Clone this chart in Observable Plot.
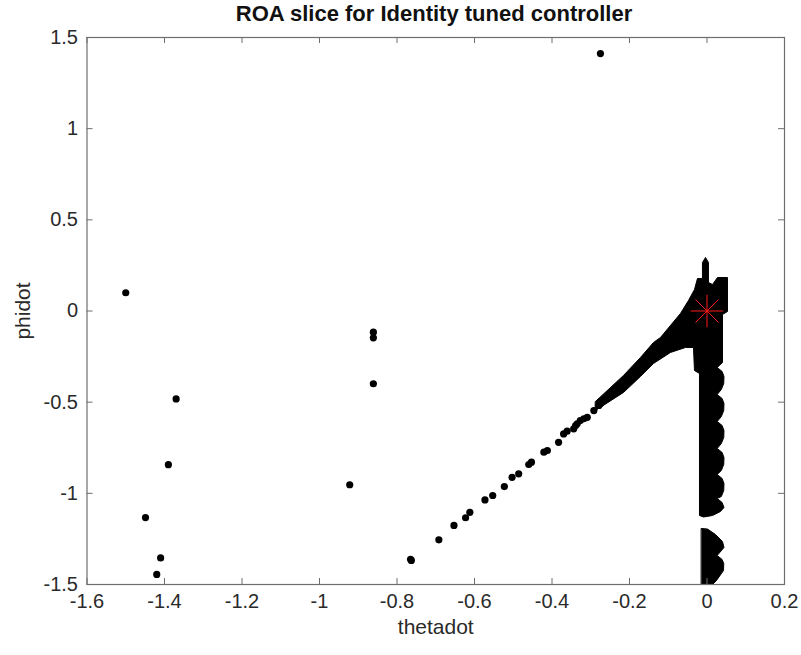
<!DOCTYPE html>
<html>
<head>
<meta charset="utf-8">
<script src="https://cdn.jsdelivr.net/npm/d3@7"></script>
<script src="https://cdn.jsdelivr.net/npm/@observablehq/plot@0.6"></script>
<style>
  html, body { margin: 0; padding: 0; background: #fff; }
  body { width: 801px; height: 655px; overflow: hidden; font-family: "Liberation Sans", Arial, sans-serif; }
  #title { position: relative; width: 801px; height: 14px; z-index: 2; }
  #title span { position: absolute; left: 434px; top: 1px; transform: translateX(-50%);
    font-weight: bold; font-size: 22px; line-height: 25px; color: #111; white-space: nowrap; }
  #chart { position: relative; z-index: 1; }
  #chart svg { display: block; background: transparent; }
</style>
</head>
<body>
<div id="title"><span>ROA slice for Identity tuned controller</span></div>
<div id="chart"></div>
<script>
// ---- tick values ----
const xTicks = [-1.6, -1.4, -1.2, -1, -0.8, -0.6, -0.4, -0.2, 0, 0.2];
const yTicks = [-1.5, -1, -0.5, 0, 0.5, 1, 1.5];

// ---- isolated sample points (thetadot, phidot) ----
const isoX = [-0.275, -1.500, -1.370, -1.390, -1.449, -1.410, -1.420, -0.861, -0.861, -0.861, -0.922, -0.763, -0.765];
const isoY = [ 1.412,  0.100, -0.482, -0.843, -1.133, -1.354, -1.445, -0.116, -0.147, -0.399, -0.953, -1.368, -1.362];

// ---- sparse points along the diagonal ----
const diagX = [-0.692, -0.653, -0.623, -0.612, -0.573, -0.553, -0.523, -0.503, -0.486, -0.460, -0.453, -0.421, -0.412,
               -0.383, -0.370, -0.361, -0.344, -0.339, -0.335, -0.327, -0.318, -0.309, -0.292, -0.279, -0.275];
const diagY = [-1.255, -1.176, -1.134, -1.104, -1.036, -1.012, -0.963, -0.912, -0.893, -0.842, -0.829, -0.774, -0.765,
               -0.720, -0.674, -0.659, -0.646, -0.628, -0.619, -0.601, -0.591, -0.583, -0.546, -0.518, -0.507];

// ---- dense region outline: diagonal band + column near thetadot = 0 ----
const denseX = [-0.2878, -0.2155, -0.1717, -0.1381, -0.1201, -0.0943, -0.0685, -0.0478, -0.0323, -0.0246,
                -0.0117, -0.0117, -0.0039, 0.0038, 0.0038, 0.0142, 0.0271, 0.0529, 0.0529, 0.0400, 0.0400,
                0.0263, 0.0390, 0.0438, 0.0432, 0.0370,
                0.0263, 0.0390, 0.0438, 0.0432, 0.0370,
                0.0263, 0.0390, 0.0438, 0.0432, 0.0370,
                0.0263, 0.0390, 0.0438, 0.0432, 0.0370,
                0.0263, 0.0390, 0.0438, 0.0432, 0.0370,
                0.0263, 0.0390, 0.0438,
                0.0348, 0.0142, -0.0091, -0.0194, -0.0194, -0.0323, -0.0349,
                -0.0555, -0.0943, -0.1381, -0.1717, -0.2155, -0.2878];
const denseY = [-0.4960, -0.3536, -0.2549, -0.1726, -0.1452, -0.0794, -0.0136, 0.0576, 0.1179, 0.1783,
                0.1783, 0.2660, 0.2934, 0.2660, 0.1563, 0.1453, 0.1837, 0.1837, -0.0028, -0.0192, -0.2825,
                -0.3099, -0.3318, -0.3593, -0.3977, -0.4306,
                -0.4580, -0.4799, -0.5074, -0.5458, -0.5787,
                -0.6060, -0.6279, -0.6554, -0.6938, -0.7267,
                -0.7541, -0.7760, -0.8035, -0.8419, -0.8748,
                -0.8967, -0.9186, -0.9461, -0.9845, -1.0174,
                -1.0283, -1.0502, -1.0777,
                -1.0996, -1.1216, -1.1298, -1.1216, -0.3428, -0.3263, -0.2002,
                -0.2002, -0.2275, -0.2878, -0.3591, -0.4468, -0.5455];

// ---- lower block of the column ----
const lowX = [-0.0142, 0.0012, 0.0219, 0.0400, 0.0438, 0.0263, 0.0390, 0.0432, 0.0426, 0.0245, 0.0142, -0.0142];
const lowY = [-1.1929, -1.1957, -1.2258, -1.2642, -1.2971, -1.3410, -1.3629, -1.3848, -1.4232, -1.4781, -1.5, -1.5];

// ---- equilibrium marker ----
const eqX = [0];
const eqY = [0];

// ---- build tables ----
const pts = isoX.map((x, i) => ({x, y: isoY[i]})).concat(diagX.map((x, i) => ({x, y: diagY[i]})));
const poly = denseX.map((x, i) => ({x, y: denseY[i], part: "upper"}))
  .concat(lowX.map((x, i) => ({x, y: lowY[i], part: "lower"})));
const eq = eqX.map((x, i) => ({x, y: eqY[i]}));

// ---- layout ----
const W = 801, H = 641, mt = 23, mb = 71, ml = 86.5, mr = 17;
const plotH = H - mt - mb;
const plotW = W - ml - mr;
const tick = 6;
const axisCol = "#6e6e6e";
const textCol = "#2a2a2a";

const chart = Plot.plot({
  width: W, height: H,
  marginTop: mt, marginBottom: mb, marginLeft: ml, marginRight: mr,
  x: {domain: [-1.6, 0.2]},
  y: {domain: [-1.5, 1.5]},
  style: {fontFamily: "'Liberation Sans', Arial, sans-serif", fontSize: "20px", color: textCol, background: "transparent"},
  marks: [
    Plot.line(poly, {x: "x", y: "y", z: "part", fill: "#000", stroke: "#000", strokeWidth: 1, curve: "linear-closed", clip: true}),
    Plot.dot(pts, {x: "x", y: "y", r: 3.6, fill: "#000", stroke: "none"}),
    Plot.dot(eq, {x: "x", y: "y", r: 10.5, symbol: "plus", stroke: "#ff1a1a", strokeWidth: 1}),
    Plot.dot(eq, {x: "x", y: "y", r: 10.5, symbol: "times", stroke: "#ff1a1a", strokeWidth: 1}),
    Plot.frame({stroke: axisCol, strokeWidth: 1.2}),
    Plot.ruleX(xTicks, {x: d => d, insetTop: plotH - tick, stroke: axisCol}),
    Plot.ruleX(xTicks, {x: d => d, insetBottom: plotH - tick, stroke: axisCol}),
    Plot.ruleY(yTicks, {y: d => d, insetRight: plotW - tick, stroke: axisCol}),
    Plot.ruleY(yTicks, {y: d => d, insetLeft: plotW - tick, stroke: axisCol}),
    Plot.axisX(xTicks, {tickSize: 0, tickPadding: 9, tickFormat: d => String(d), label: null, fontSize: 20, fill: textCol}),
    Plot.axisY(yTicks, {tickSize: 0, tickPadding: 9, tickFormat: d => String(d), label: null, fontSize: 20, fill: textCol}),
    Plot.text(["thetadot"], {frameAnchor: "bottom", dy: 43, lineAnchor: "middle", textAnchor: "middle", text: d => d, fontSize: 21, fill: textCol}),
    Plot.text(["phidot"], {frameAnchor: "left", dx: -64, rotate: -90, lineAnchor: "middle", textAnchor: "middle", text: d => d, fontSize: 21, fill: textCol})
  ]
});
document.getElementById("chart").appendChild(chart);
</script>
</body>
</html>
